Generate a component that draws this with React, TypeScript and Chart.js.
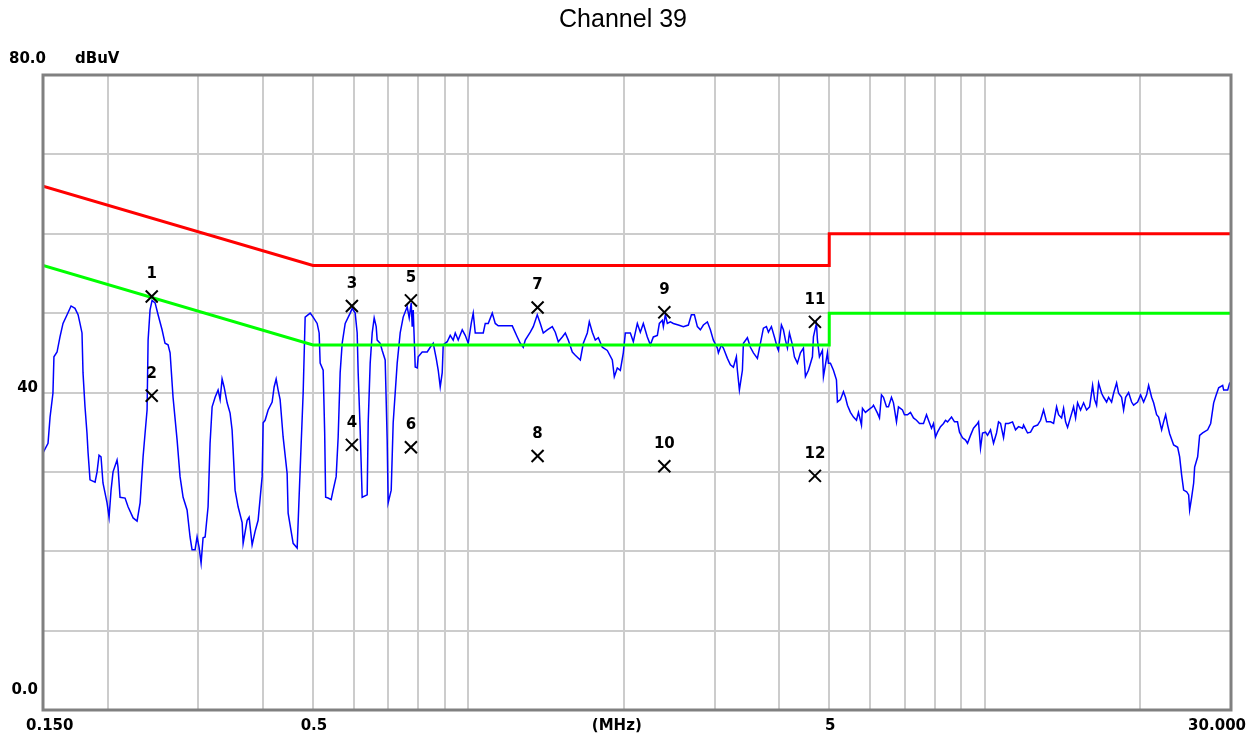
import React, { useEffect, useRef } from 'react';
import { Chart, registerables } from 'chart.js';

Chart.register(...registerables);

// ---- Measured trace (frequency in MHz, level in dBuV) ----
const traceFreqMHz = [
  0.150, 0.1534, 0.1548, 0.1568, 0.1575, 0.1597, 0.1618, 0.1640, 0.1670, 0.1700,
  0.1730, 0.1754, 0.1769, 0.1785, 0.1793, 0.1809, 0.1825, 0.1834, 0.1850, 0.1892,
  0.1909, 0.1926, 0.1943, 0.1960, 0.1996, 0.2014, 0.2032, 0.2050, 0.2087, 0.2096,
  0.2115, 0.2163, 0.2192, 0.2242, 0.2282, 0.2313, 0.2344, 0.2365, 0.2386, 0.2397,
  0.2418, 0.2440, 0.2473, 0.2506, 0.2551, 0.2585, 0.2620, 0.2644, 0.2679, 0.2728,
  0.2764, 0.2802, 0.2852, 0.2890, 0.2916, 0.2956, 0.2982, 0.3009, 0.3036, 0.3063,
  0.3091, 0.3132, 0.3160, 0.3189, 0.3232, 0.3275, 0.3305, 0.3334, 0.3364, 0.3410,
  0.3455, 0.3486, 0.3502, 0.3533, 0.3581, 0.3646, 0.3662, 0.3728, 0.3761, 0.3812,
  0.3863, 0.3915, 0.3986, 0.4004, 0.4039, 0.4094, 0.4168, 0.4205, 0.4243, 0.4281,
  0.4319, 0.4377, 0.4456, 0.4476, 0.4577, 0.4660, 0.4722, 0.4786, 0.4829, 0.4938,
  0.5004, 0.5094, 0.5140, 0.5163, 0.5233, 0.5268, 0.5291, 0.5350, 0.5423, 0.5471,
  0.5545, 0.5595, 0.5645, 0.5696, 0.5773, 0.5903, 0.5956, 0.6036, 0.6090, 0.6117,
  0.6172, 0.6227, 0.6368, 0.6397, 0.6454, 0.6512, 0.6570, 0.6629, 0.6658, 0.6748,
  0.6809, 0.6900, 0.6962, 0.6993, 0.7088, 0.7151, 0.7280, 0.7378, 0.7477, 0.7612,
  0.7681, 0.7750, 0.7784, 0.7819, 0.7889, 0.7960, 0.7995, 0.8139, 0.8323, 0.8435,
  0.8549, 0.8664, 0.8742, 0.8820, 0.8899, 0.8939, 0.9100, 0.9222, 0.9346, 0.9431,
  0.9557, 0.9730, 0.9861, 0.9994, 1.0128, 1.0219, 1.0311, 1.0544, 1.0686, 1.0782,
  1.0926, 1.1124, 1.1274, 1.1425, 1.2162, 1.2436, 1.2604, 1.2774, 1.2889, 1.3180,
  1.3357, 1.3597, 1.3781, 1.3966, 1.4218, 1.4539, 1.4735, 1.4933, 1.5202, 1.5407,
  1.5615, 1.5896, 1.6110, 1.6473, 1.6697, 1.6996, 1.7149, 1.7380, 1.7613, 1.7852,
  1.8173, 1.8582, 1.9001, 1.9172, 1.9430, 1.9693, 1.9958, 2.0137, 2.0592, 2.0868,
  2.1245, 2.1530, 2.1820, 2.2212, 2.2516, 2.2818, 2.3228, 2.3438, 2.3753, 2.3860,
  2.4073, 2.4288, 2.4616, 2.4948, 2.5510, 2.6085, 2.6675, 2.7035, 2.7400, 2.7768,
  2.8143, 2.8521, 2.9034, 2.9426, 2.9822, 3.0360, 3.0495, 3.0906, 3.1185, 3.1746,
  3.2172, 3.2607, 3.3045, 3.3192, 3.3492, 3.3944, 3.4096, 3.4708, 3.5176, 3.5652,
  3.6292, 3.6780, 3.7276, 3.7780, 3.8120, 3.8632, 3.9152, 3.9680, 3.9857, 4.0395,
  4.0756, 4.1124, 4.1492, 4.1864, 4.2428, 4.2808, 4.3384, 4.3968, 4.4560, 4.4960,
  4.5570, 4.6385, 4.6595, 4.7220, 4.7435, 4.7860, 4.8500, 4.8720, 4.9598, 4.9820,
  5.0265, 5.0945, 5.1630, 5.1860, 5.2560, 5.3270, 5.3750, 5.4225, 5.4955, 5.5704,
  5.6454, 5.6958, 5.7726, 5.7984, 5.8765, 5.9557, 6.0630, 6.0900, 6.1998, 6.2556,
  6.3114, 6.3678, 6.4542, 6.5118, 6.5994, 6.6584, 6.7480, 6.8082, 6.9310, 6.9930,
  7.0875, 7.1827, 7.2800, 7.3780, 7.4774, 7.6118, 7.7152, 7.7840, 7.8890, 7.9598,
  8.0312, 8.1032, 8.2120, 8.3232, 8.3976, 8.4728, 8.6256, 8.7417, 8.8593, 8.9388,
  9.0594, 9.1818, 9.2637, 9.3888, 9.5148, 9.6867, 9.7299, 9.8170, 9.9050, 10.038,
  10.128, 10.265, 10.403, 10.544, 10.638, 10.734, 10.878, 10.977, 11.124, 11.324,
  11.476, 11.631, 11.841, 11.894, 12.108, 12.271, 12.437, 12.660, 12.831, 13.004,
  13.180, 13.418, 13.598, 13.781, 13.904, 14.092, 14.218, 14.345, 14.474, 14.669,
  14.867, 15.000, 15.134, 15.338, 15.545, 15.755, 15.967, 16.182, 16.327, 16.473,
  16.622, 16.846, 16.996, 17.226, 17.380, 17.614, 17.772, 18.012, 18.172, 18.418,
  18.582, 18.750, 19.002, 19.258, 19.430, 19.781, 20.047, 20.318, 20.592, 20.776,
  21.056, 21.244, 21.530, 21.724, 22.018, 22.212, 22.415, 22.615, 22.818, 23.228,
  23.648, 23.860, 24.073, 24.288, 24.616, 24.837, 24.948, 25.171, 25.398, 25.510,
  25.855, 26.085, 26.438, 27.035, 27.400, 27.768, 28.017, 28.395, 28.905, 29.034,
  29.558, 29.822, 30.000,
];

const traceLevelDbuv = [
  32.4, 33.6, 36.9, 39.9, 44.5, 45.1, 47.0, 48.7, 49.8, 50.9,
  50.6, 49.8, 48.7, 47.5, 42.5, 38.2, 34.9, 32.4, 29.0, 28.7,
  30.0, 32.1, 31.9, 28.6, 26.1, 24.3, 27.7, 30.0, 31.5, 30.6,
  26.8, 26.7, 25.6, 24.2, 23.8, 26.1, 31.9, 34.9, 37.8, 46.6,
  50.4, 51.6, 51.3, 49.8, 47.9, 46.2, 46.0, 45.0, 39.4, 34.0,
  29.4, 26.8, 25.2, 21.8, 20.2, 20.2, 21.8, 20.5, 18.5, 21.7,
  21.8, 25.6, 33.6, 38.2, 39.4, 40.3, 39.1, 41.7, 40.7, 38.7,
  37.4, 35.3, 32.8, 27.7, 25.6, 23.6, 21.0, 23.9, 24.3, 20.8,
  22.5, 23.9, 29.4, 36.2, 36.5, 37.8, 38.8, 40.7, 41.7, 40.3,
  39.1, 34.4, 29.8, 24.8, 21.0, 20.4, 30.2, 39.9, 49.5, 50.0,
  49.5, 48.7, 47.5, 43.7, 42.8, 35.0, 26.8, 26.7, 26.5, 27.7,
  29.4, 34.4, 42.5, 46.2, 48.7, 50.0, 50.6, 50.0, 47.5, 42.5,
  35.3, 26.8, 27.1, 36.2, 43.7, 47.5, 49.4, 48.3, 46.6, 46.2,
  45.3, 44.1, 34.0, 26.1, 27.7, 36.2, 43.7, 47.5, 49.5, 50.8,
  49.4, 51.3, 48.3, 50.4, 43.2, 43.1, 44.5, 45.1, 45.1, 45.7,
  46.2, 44.3, 42.8, 40.7, 42.5, 46.0, 46.4, 47.2, 46.6, 47.5,
  46.6, 47.9, 47.2, 46.2, 48.7, 50.0, 47.5, 47.5, 47.5, 48.7,
  48.7, 50.0, 48.7, 48.4, 48.4, 47.0, 46.2, 45.7, 46.6, 47.6,
  48.3, 49.8, 48.7, 47.5, 47.9, 48.3, 47.6, 46.4, 47.0, 47.5,
  46.6, 45.1, 44.7, 44.1, 46.2, 47.5, 48.9, 47.6, 46.6, 46.9,
  45.7, 45.3, 44.1, 42.0, 43.1, 42.8, 45.0, 47.5, 47.5, 46.4,
  48.7, 47.6, 48.7, 47.0, 46.0, 47.0, 47.2, 48.7, 49.1, 48.3,
  49.8, 48.7, 48.9, 48.7, 48.5, 48.3, 48.5, 49.8, 49.8, 48.3,
  47.9, 48.5, 48.9, 47.9, 46.6, 45.6, 45.0, 46.0, 45.6, 44.3,
  43.5, 43.2, 44.5, 42.8, 40.3, 42.8, 46.2, 46.9, 45.7, 45.0,
  44.3, 46.2, 48.1, 48.3, 47.6, 48.3, 47.0, 45.6, 45.3, 48.5,
  47.9, 46.6, 45.6, 47.5, 46.0, 44.5, 43.7, 45.0, 45.6, 42.0,
  42.8, 44.5, 47.0, 48.7, 46.6, 44.5, 45.3, 42.0, 45.0, 43.7,
  43.7, 42.8, 41.6, 38.8, 39.1, 40.1, 39.4, 38.4, 37.5, 36.9,
  36.5, 37.5, 35.9, 38.0, 37.5, 37.8, 38.2, 38.4, 37.4, 36.8,
  39.7, 39.4, 38.2, 38.2, 39.4, 38.7, 36.3, 38.2, 37.8, 37.2,
  37.2, 37.5, 36.8, 36.5, 36.1, 36.1, 37.2, 36.5, 35.5, 36.1,
  34.4, 35.0, 35.7, 36.1, 36.5, 36.3, 36.9, 36.3, 36.3, 35.0,
  34.3, 34.0, 33.6, 34.6, 35.5, 36.1, 36.3, 33.0, 34.9, 35.0,
  34.6, 35.3, 33.6, 34.9, 36.3, 36.1, 34.3, 36.1, 36.1, 36.3,
  35.3, 35.7, 35.5, 35.9, 34.9, 35.0, 35.7, 35.9, 36.5, 37.8,
  36.3, 36.3, 36.1, 38.2, 37.2, 36.8, 38.0, 36.3, 35.6, 36.9,
  38.2, 36.8, 38.7, 37.8, 38.7, 37.8, 38.2, 40.9, 39.1, 38.4,
  41.2, 39.9, 39.4, 38.8, 39.4, 38.8, 39.9, 41.2, 39.9, 39.4,
  37.8, 39.4, 40.0, 38.8, 38.4, 38.8, 39.7, 38.8, 39.7, 40.9,
  39.4, 38.7, 37.2, 36.9, 35.3, 36.3, 37.2, 35.9, 34.8, 33.4,
  33.1, 31.9, 29.6, 27.7, 27.5, 27.1, 25.2, 26.8, 28.6, 30.6,
  31.9, 34.6, 34.9, 35.3, 36.1, 38.7, 39.5, 40.6, 40.9, 40.3,
  40.3, 41.2, 41.2,
];

// ---- Limit lines ----
const qpLimitFreq = [0.15, 0.5, 5, 5, 30];
const qpLimitLevel = [66, 56, 56, 60, 60];
const avLimitFreq = [0.15, 0.5, 5, 5, 30];
const avLimitLevel = [56, 46, 46, 50, 50];

// ---- Markers ----
const markerFreq = [0.2436, 0.2436, 0.5948, 0.5948, 0.7739, 0.7739, 1.3616, 1.3616, 2.3965, 2.3965, 4.6907, 4.6907];
const markerLevel = [52.1, 39.6, 50.9, 33.4, 51.6, 33.1, 50.7, 32.0, 50.1, 30.7, 48.9, 29.5];
const markerLabels = ['1', '2', '3', '4', '5', '6', '7', '8', '9', '10', '11', '12'];

// ---- Axes ----
const xGridFreq = [0.15, 0.2, 0.3, 0.4, 0.5, 0.6, 0.7, 0.8, 0.9, 1, 2, 3, 4, 5, 6, 7, 8, 9, 10, 20, 30];
const xLabelFreq = [0.15, 0.5, 2, 5, 30];
const xLabelText = ['0.150', '0.5', '(MHz)', '5', '30.000'];
const yMin = 0;
const yMax = 80;
const yStep = 10;
const yLabelValues = [40, 0];
const yLabelText = ['40', '0.0'];
const titleText = 'Channel 39';
const topLabelText = '80.0';
const unitText = 'dBuV';

const LABEL_FONT = 'bold 15px "DejaVu Sans"';

const overlayPlugin = {
  id: 'overlay',
  afterDatasetsDraw(chart: any) {
    const { ctx, chartArea } = chart;
    const xs = chart.scales.x;
    const ys = chart.scales.y;
    ctx.save();
    // marker numbers
    ctx.fillStyle = '#000';
    ctx.font = LABEL_FONT;
    ctx.textAlign = 'center';
    ctx.textBaseline = 'middle';
    markerFreq.forEach((f, i) => {
      const px = xs.getPixelForValue(f);
      const py = ys.getPixelForValue(markerLevel[i]);
      ctx.fillText(markerLabels[i], px, py - 22);
    });
    // frame
    ctx.strokeStyle = '#808080';
    ctx.lineWidth = 3;
    ctx.strokeRect(chartArea.left, chartArea.top, chartArea.right - chartArea.left, chartArea.bottom - chartArea.top);
    ctx.restore();
  },
  afterDraw(chart: any) {
    const { ctx, chartArea } = chart;
    const xs = chart.scales.x;
    const ys = chart.scales.y;
    ctx.save();
    ctx.fillStyle = '#000';
    // title
    ctx.font = '25px "Liberation Sans"';
    ctx.textAlign = 'center';
    ctx.textBaseline = 'middle';
    ctx.fillText(titleText, 623, 20);
    // top-left labels
    ctx.font = LABEL_FONT;
    ctx.textAlign = 'left';
    ctx.fillText(topLabelText, 9, chartArea.top - 16);
    ctx.fillText(unitText, 75, chartArea.top - 16);
    // y labels
    ctx.textAlign = 'right';
    yLabelValues.forEach((v, i) => {
      ctx.fillText(yLabelText[i], 38, ys.getPixelForValue(v) - 4 - (v === 0 ? 16 : 0));
    });
    // x labels
    const ly = chartArea.bottom + 16;
    xLabelFreq.forEach((f, i) => {
      const px = xs.getPixelForValue(f);
      if (i === 0) {
        ctx.textAlign = 'left';
        ctx.fillText(xLabelText[i], px - 17, ly);
      } else if (i === xLabelFreq.length - 1) {
        ctx.textAlign = 'right';
        ctx.fillText(xLabelText[i], px + 15, ly);
      } else if (xLabelText[i] === '(MHz)') {
        ctx.textAlign = 'center';
        ctx.fillText(xLabelText[i], px - 7, ly);
      } else {
        ctx.textAlign = 'center';
        ctx.fillText(xLabelText[i], px + 1, ly);
      }
    });
    ctx.restore();
  },
};

export default function App() {
  const canvasRef = useRef<HTMLCanvasElement | null>(null);

  useEffect(() => {
    if (!canvasRef.current) return;
    const toPoints = (xs: number[], ys: number[]) => xs.map((x, i) => ({ x, y: ys[i] }));
    const chart = new Chart(canvasRef.current, {
      type: 'line',
      data: {
        datasets: [
          {
            label: 'Markers',
            data: toPoints(markerFreq, markerLevel),
            showLine: false,
            pointStyle: 'crossRot',
            pointRadius: 8.5,
            pointBorderWidth: 2,
            pointBorderColor: '#000000',
            pointBackgroundColor: '#000000',
            order: 0,
          } as any,
          {
            label: 'QP limit',
            data: toPoints(qpLimitFreq, qpLimitLevel),
            borderColor: '#ff0000',
            borderWidth: 3,
            pointRadius: 0,
            tension: 0,
            order: 1,
          },
          {
            label: 'AV limit',
            data: toPoints(avLimitFreq, avLimitLevel),
            borderColor: '#00ff00',
            borderWidth: 3,
            pointRadius: 0,
            tension: 0,
            order: 2,
          },
          {
            label: 'Trace',
            data: toPoints(traceFreqMHz, traceLevelDbuv),
            borderColor: '#0000ff',
            borderWidth: 1.5,
            pointRadius: 0,
            tension: 0,
            order: 3,
          },
        ],
      },
      options: {
        responsive: true,
        maintainAspectRatio: false,
        animation: false,
        events: [],
        layout: { padding: { left: 43, right: 22, top: 75, bottom: 30 } },
        plugins: {
          legend: { display: false },
          title: { display: false },
          tooltip: { enabled: false },
        },
        scales: {
          x: {
            type: 'logarithmic',
            min: 0.15,
            max: 30,
            afterBuildTicks: (scale: any) => {
              scale.ticks = xGridFreq.map((v) => ({ value: v }));
            },
            ticks: { display: false },
            grid: { color: '#cccccc', lineWidth: 2, drawTicks: false },
            border: { display: false },
          },
          y: {
            type: 'linear',
            min: yMin,
            max: yMax,
            ticks: { display: false, stepSize: yStep },
            grid: { color: '#cccccc', lineWidth: 2, drawTicks: false },
            border: { display: false },
          },
        },
      },
      plugins: [overlayPlugin],
    });
    return () => chart.destroy();
  }, []);

  return (
    <div style={{ position: 'absolute', left: 0, top: 0, width: 1253, height: 740, background: '#ffffff' }}>
      <canvas ref={canvasRef} />
    </div>
  );
}
